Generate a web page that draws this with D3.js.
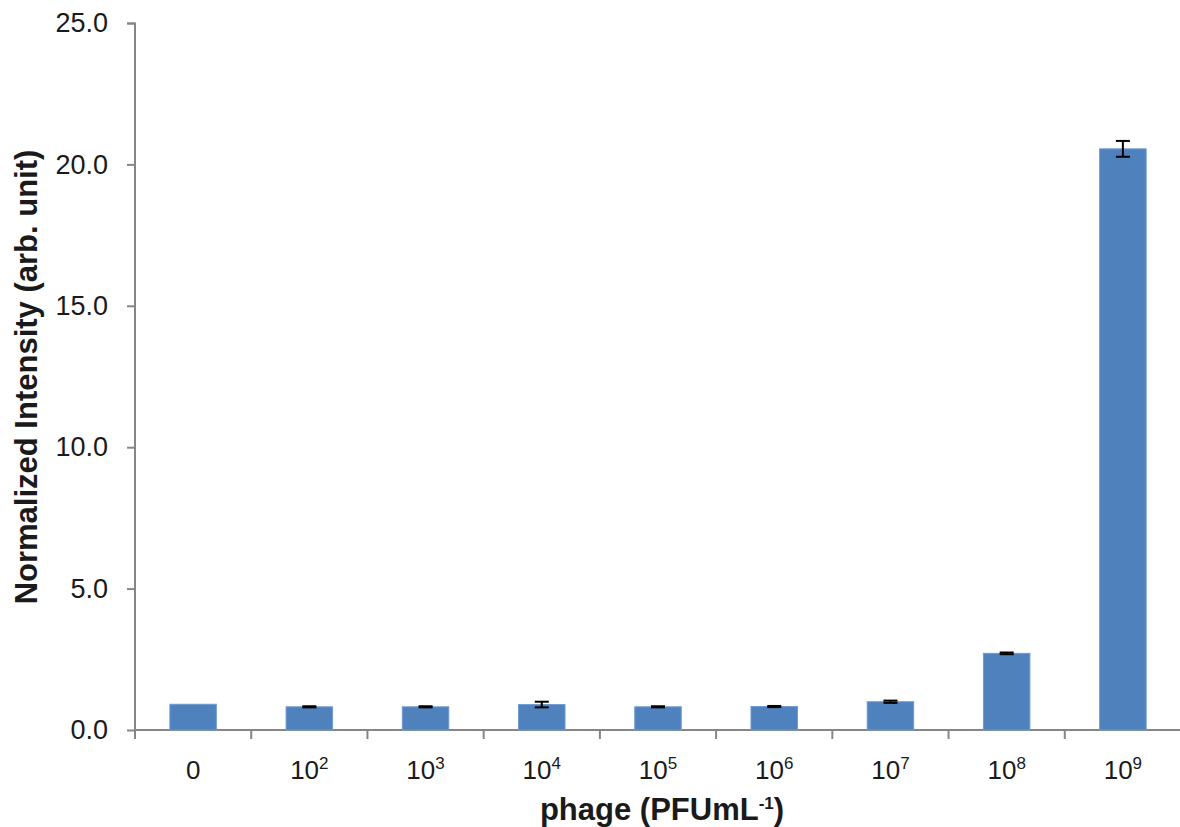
<!DOCTYPE html>
<html>
<head>
<meta charset="utf-8">
<script src="https://cdn.jsdelivr.net/npm/d3@7"></script>
<style>
  body { margin: 0; background: #fff; }
  svg text { font-family: "Liberation Sans", Arial, sans-serif; fill: #1a1a1a; }
</style>
</head>
<body>
<div id="chart"></div>
<script>
// data
const categories = ['0', '2', '3', '4', '5', '6', '7', '8', '9'];   // exponents of 10 (first is plain 0)
const values = [0.91, 0.82, 0.82, 0.90, 0.82, 0.83, 1.00, 2.71, 20.55];
const errors = [0, 0.02, 0.02, 0.10, 0.02, 0.02, 0.04, 0.03, 0.28];
const yTicks = [0, 5, 10, 15, 20, 25];

const W = 1180, H = 827;
const margin = { top: 23, right: 0, bottom: 97, left: 135 };
const width = 1181 - margin.left;
const height = H - margin.top - margin.bottom;

const svg = d3.select('#chart').append('svg')
  .attr('width', W).attr('height', H);
const g = svg.append('g')
  .attr('transform', `translate(${margin.left},${margin.top})`);

const x = d3.scaleBand()
  .domain(d3.range(categories.length))
  .range([0, width])
  .paddingInner(0.6).paddingOuter(0.3);

const y = d3.scaleLinear().domain([0, 25]).range([height, 0]);

const axisColor = '#868686';

// Y axis
const yAxis = g.append('g')
  .call(d3.axisLeft(y).tickValues(yTicks).tickSize(8).tickPadding(19).tickFormat(d3.format('.1f')));
yAxis.selectAll('path, line').attr('stroke', axisColor).attr('stroke-width', 2);
yAxis.select('.domain').attr('d', `M-8,0.5H0V${height}`);
yAxis.selectAll('text').style('font-size', '27px').attr('fill', '#1a1a1a');

// X axis: ticks at the category boundaries
const step = width / categories.length;
const xAxis = g.append('g').attr('transform', `translate(0,${height})`);
xAxis.append('line')
  .attr('x1', 0).attr('x2', width)
  .attr('stroke', axisColor).attr('stroke-width', 2);
xAxis.selectAll('.tk')
  .data(d3.range(categories.length + 1))
  .enter().append('line')
  .attr('x1', i => i * step).attr('x2', i => i * step)
  .attr('y1', 0).attr('y2', 9)
  .attr('stroke', axisColor).attr('stroke-width', 2);

const lab = xAxis.selectAll('.lab')
  .data(categories)
  .enter().append('text')
  .attr('x', (d, i) => x(i) + x.bandwidth() / 2)
  .attr('y', 49)
  .attr('text-anchor', 'middle')
  .style('font-size', '26px');
lab.each(function(d) {
  const t = d3.select(this);
  if (d === '0') { t.text('0'); return; }
  t.append('tspan').text('10');
  t.append('tspan').attr('dy', -10).style('font-size', '17px').text(d);
});

// Bars
g.selectAll('.bar')
  .data(values)
  .enter().append('rect')
  .attr('x', (d, i) => x(i))
  .attr('y', d => y(d))
  .attr('width', x.bandwidth())
  .attr('height', d => height - y(d))
  .attr('fill', '#4f81bd')
  .attr('stroke', '#6f9bd0')
  .attr('stroke-width', 1);

// Error bars
const eb = g.selectAll('.err')
  .data(values.map((v, i) => ({ v, e: errors[i], i })).filter(d => d.e > 0))
  .enter().append('g')
  .attr('stroke', '#000').attr('stroke-width', 2);
const cx = d => x(d.i) + x.bandwidth() / 2;
eb.append('line')
  .attr('x1', cx).attr('x2', cx)
  .attr('y1', d => y(d.v - d.e)).attr('y2', d => y(d.v + d.e));
eb.append('line')
  .attr('x1', d => cx(d) - 7).attr('x2', d => cx(d) + 7)
  .attr('y1', d => y(d.v + d.e)).attr('y2', d => y(d.v + d.e));
eb.append('line')
  .attr('x1', d => cx(d) - 7).attr('x2', d => cx(d) + 7)
  .attr('y1', d => y(d.v - d.e)).attr('y2', d => y(d.v - d.e));

// Axis titles
const xt = svg.append('text')
  .attr('x', 662).attr('y', 820)
  .attr('text-anchor', 'middle')
  .style('font-size', '31px').style('font-weight', 'bold');
xt.append('tspan').text('phage (PFUmL');
xt.append('tspan').attr('dy', -11).style('font-size', '17px').text('-1');
xt.append('tspan').attr('dy', 11).text(')');

svg.append('text')
  .attr('transform', 'translate(37,377) rotate(-90)')
  .attr('text-anchor', 'middle')
  .style('font-size', '31px').style('font-weight', 'bold')
  .text('Normalized Intensity (arb. unit)');
</script>
</body>
</html>
